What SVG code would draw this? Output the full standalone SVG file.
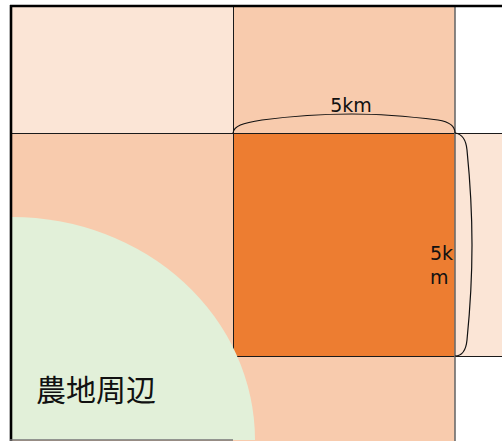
<svg xmlns="http://www.w3.org/2000/svg" width="502" height="441" viewBox="0 0 502 441">
<style>
.pale{fill:#FBE5D6}
.peach{fill:#F8CBAD}
.orange{fill:#ED7D31}
.green{fill:#E2F0D9}
.grid{stroke:#1a1a1a;stroke-width:1;fill:none}
.gridg{stroke:#6b6b6b;stroke-width:1.6;fill:none}
.brace{stroke:#111;stroke-width:1.2;fill:none}
.lbl{font-family:"DejaVu Sans","Liberation Sans",sans-serif;font-size:19px;fill:#111}
.jp{font-family:"Noto Sans CJK JP","Noto Sans",sans-serif;font-size:30px;fill:#111}
</style>
<rect width="502" height="441" fill="#fff"/>
<g id="cell-top-left"><rect class="pale" x="12" y="7" width="221" height="126"/></g>
<g id="cell-top-middle"><rect class="peach" x="233" y="7" width="222" height="126"/></g>
<g id="cell-left"><rect class="peach" x="12" y="133" width="221" height="308"/></g>
<g id="cell-center"><rect class="orange" x="233" y="133" width="222" height="223"/></g>
<g id="cell-right"><rect class="pale" x="455" y="133" width="47" height="223"/></g>
<g id="cell-bottom-middle"><rect class="peach" x="233" y="356" width="222" height="85"/></g>
<g id="grid">
<line class="grid" x1="12" y1="133.5" x2="502" y2="133.5"/>
<line class="grid" x1="233" y1="356.5" x2="502" y2="356.5"/>
<line class="grid" x1="233.5" y1="7" x2="233.5" y2="356"/>
<line class="gridg" x1="455" y1="7" x2="455" y2="441"/>
</g>
<g id="farmland">
<path class="green" d="M12,440 L12,217 A243,223 0 0 1 255,440 Z"/>
<text class="jp" x="36" y="401">農地周辺</text>
</g>
<g id="frame">
<line x1="11" y1="5" x2="11" y2="441" stroke="#000" stroke-width="2.6"/>
<line x1="10" y1="6" x2="502" y2="6" stroke="#000" stroke-width="2.6"/>
<line x1="10" y1="440" x2="233" y2="440" stroke="#777" stroke-width="1.5"/>
</g>
<g id="connectors">
<path class="brace" d="M233,133 C234,126 242,123 262,120 C300,115 330,114 352,114 C375,114 405,116 438,120 C451,122 455,127 455,133"/>
<path class="brace" d="M455,133 C462,134 466,139 467,150 C470,180 472,220 472,245 C472,270 470,310 467,340 C466,350 462,356 455,356"/>
</g>
<g id="labels">
<text class="lbl" x="351" y="112" text-anchor="middle">5km</text>
<text class="lbl" x="430" y="260">5k</text>
<text class="lbl" x="430" y="284">m</text>
</g>
</svg>
